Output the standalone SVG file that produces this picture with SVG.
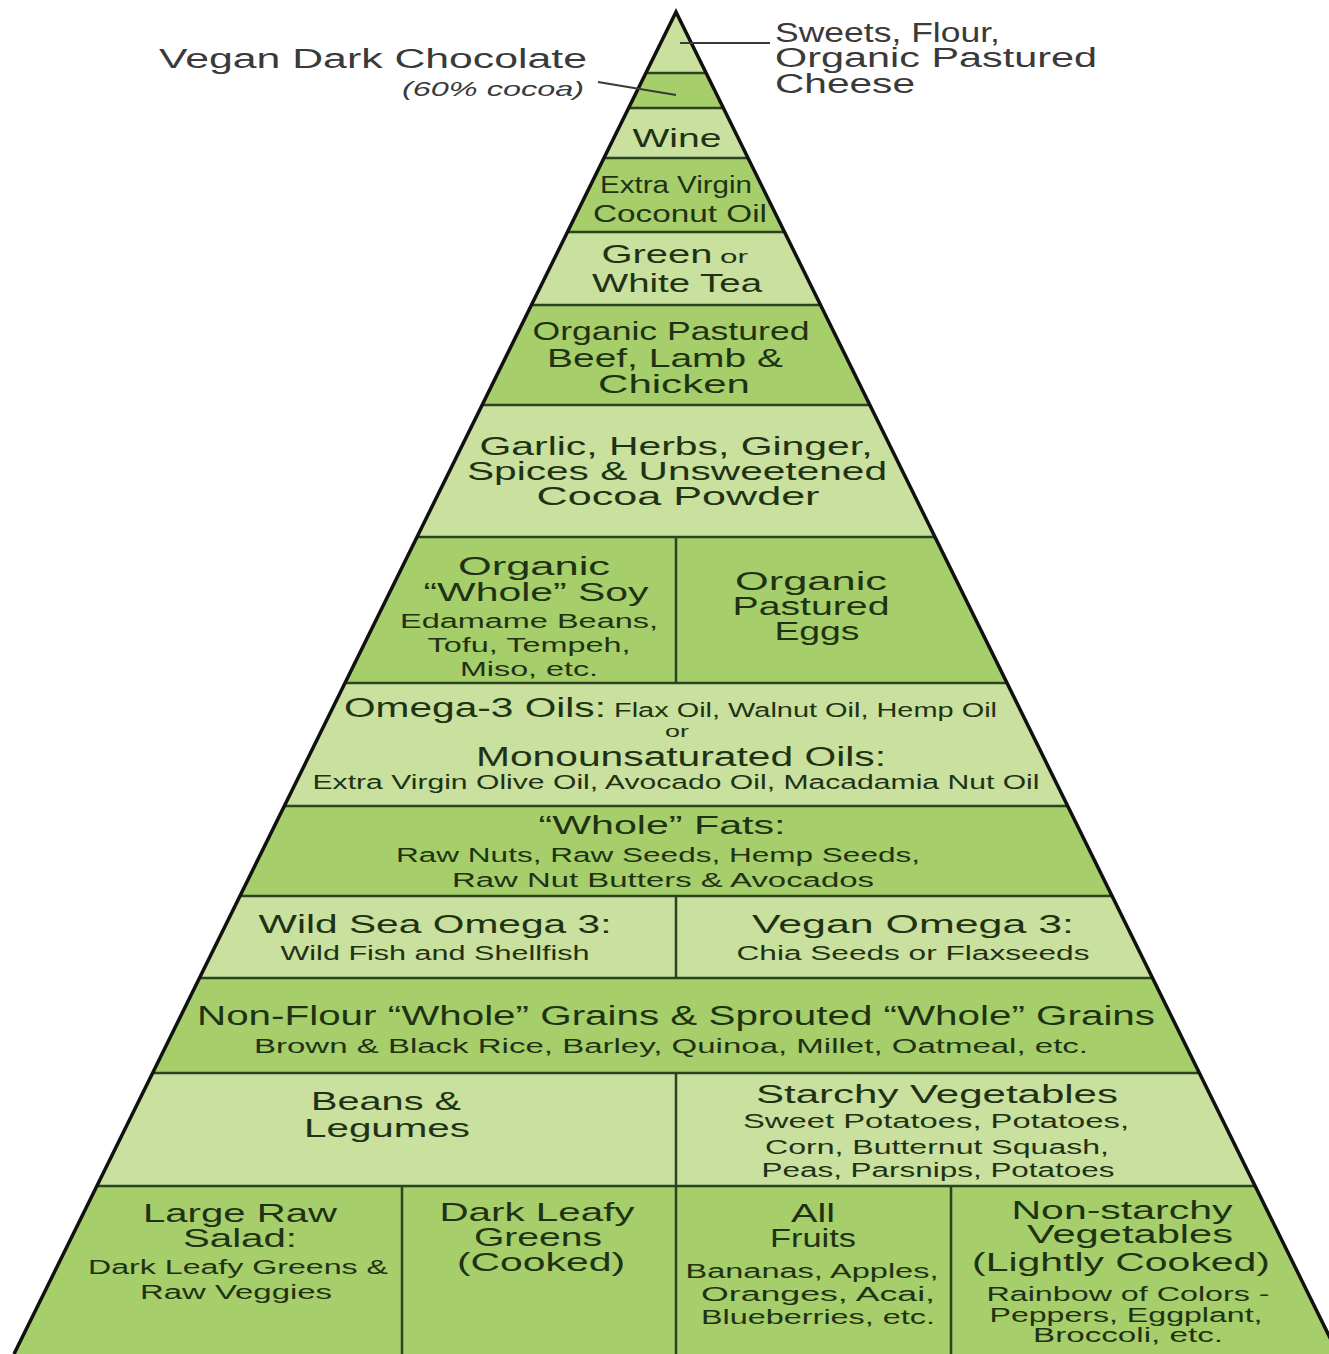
<svg xmlns="http://www.w3.org/2000/svg" width="1329" height="1354" viewBox="0 0 1329 1354">
<style>
.lt{fill:#c9e09e}
.dk{fill:#a6ce6b}
.sep{stroke:#2b4420;stroke-width:2.5;fill:none}
.out{stroke:#111;stroke-width:3.5;fill:none;stroke-linejoin:miter}
.ld{stroke:#3a3a3a;stroke-width:2;fill:none}
text{font-family:"Liberation Sans",Arial,sans-serif;fill:#1f3314;text-anchor:middle}
.h{font-size:25px}
.s{font-size:20px}
.o{fill:#3a3a3a;text-anchor:start;font-size:27px}
</style>
<defs>
<clipPath id="tri"><polygon points="676,12 14,1354 1338,1354"/></clipPath>
</defs>
<rect width="1329" height="1354" fill="#fff"/>

<g id="n-sweets"><rect class="lt" x="0" y="12" width="1329" height="61" clip-path="url(#tri)"/></g>
<g id="n-chocolate"><rect class="dk" x="0" y="73" width="1329" height="35" clip-path="url(#tri)"/></g>
<g id="n-wine"><rect class="lt" x="0" y="108" width="1329" height="50" clip-path="url(#tri)"/>
<text class="h" x="677" y="147" textLength="89" lengthAdjust="spacingAndGlyphs">Wine</text></g>
<g id="n-coconut"><rect class="dk" x="0" y="158" width="1329" height="74" clip-path="url(#tri)"/>
<text x="676" y="193" font-size="23" textLength="152" lengthAdjust="spacingAndGlyphs">Extra Virgin</text>
<text x="680" y="222" font-size="23" textLength="174" lengthAdjust="spacingAndGlyphs">Coconut Oil</text></g>
<g id="n-tea"><rect class="lt" x="0" y="232" width="1329" height="73" clip-path="url(#tri)"/>
<text class="h" x="657" y="263" textLength="111" lengthAdjust="spacingAndGlyphs">Green</text>
<text x="734" y="263" font-size="18" textLength="28" lengthAdjust="spacingAndGlyphs">or</text>
<text class="h" x="677" y="292" textLength="170" lengthAdjust="spacingAndGlyphs">White Tea</text></g>
<g id="n-beef"><rect class="dk" x="0" y="305" width="1329" height="100" clip-path="url(#tri)"/>
<text class="h" x="671" y="340" textLength="277" lengthAdjust="spacingAndGlyphs">Organic Pastured</text>
<text class="h" x="665" y="367" textLength="236" lengthAdjust="spacingAndGlyphs">Beef, Lamb &amp;</text>
<text class="h" x="674" y="393" textLength="152" lengthAdjust="spacingAndGlyphs">Chicken</text></g>
<g id="n-garlic"><rect class="lt" x="0" y="405" width="1329" height="132" clip-path="url(#tri)"/>
<text class="h" x="676" y="455" textLength="393" lengthAdjust="spacingAndGlyphs">Garlic, Herbs, Ginger,</text>
<text class="h" x="677" y="480" textLength="420" lengthAdjust="spacingAndGlyphs">Spices &amp; Unsweetened</text>
<text class="h" x="678" y="505" textLength="283" lengthAdjust="spacingAndGlyphs">Cocoa Powder</text></g>
<g id="n-soy"><rect class="dk" x="0" y="537" width="676" height="146" clip-path="url(#tri)"/>
<text class="h" x="534" y="575" textLength="152" lengthAdjust="spacingAndGlyphs">Organic</text>
<text class="h" x="536" y="601" textLength="225" lengthAdjust="spacingAndGlyphs">“Whole” Soy</text>
<text class="s" x="529" y="628" textLength="258" lengthAdjust="spacingAndGlyphs">Edamame Beans,</text>
<text class="s" x="529" y="652" textLength="203" lengthAdjust="spacingAndGlyphs">Tofu, Tempeh,</text>
<text class="s" x="529" y="676" textLength="138" lengthAdjust="spacingAndGlyphs">Miso, etc.</text></g>
<g id="n-eggs"><rect class="dk" x="676" y="537" width="653" height="146" clip-path="url(#tri)"/>
<text class="h" x="811" y="590" textLength="152" lengthAdjust="spacingAndGlyphs">Organic</text>
<text class="h" x="811" y="615" textLength="157" lengthAdjust="spacingAndGlyphs">Pastured</text>
<text class="h" x="817" y="640" textLength="85" lengthAdjust="spacingAndGlyphs">Eggs</text></g>
<g id="n-oils"><rect class="lt" x="0" y="683" width="1329" height="123" clip-path="url(#tri)"/>
<text x="344" y="717" font-size="27" style="text-anchor:start" textLength="262" lengthAdjust="spacingAndGlyphs">Omega-3 Oils:</text>
<text x="614" y="717" font-size="20" style="text-anchor:start" textLength="383" lengthAdjust="spacingAndGlyphs">Flax Oil, Walnut Oil, Hemp Oil</text>
<text x="677" y="737" font-size="17" textLength="24" lengthAdjust="spacingAndGlyphs">or</text>
<text x="681" y="766" font-size="27" textLength="410" lengthAdjust="spacingAndGlyphs">Monounsaturated Oils:</text>
<text x="676" y="789" font-size="20" textLength="727" lengthAdjust="spacingAndGlyphs">Extra Virgin Olive Oil, Avocado Oil, Macadamia Nut Oil</text></g>
<g id="n-fats"><rect class="dk" x="0" y="806" width="1329" height="90" clip-path="url(#tri)"/>
<text x="662" y="834" font-size="26" textLength="247" lengthAdjust="spacingAndGlyphs">“Whole” Fats:</text>
<text class="s" x="658" y="862" textLength="524" lengthAdjust="spacingAndGlyphs">Raw Nuts, Raw Seeds, Hemp Seeds,</text>
<text class="s" x="663" y="887" textLength="422" lengthAdjust="spacingAndGlyphs">Raw Nut Butters &amp; Avocados</text></g>
<g id="n-wildsea"><rect class="lt" x="0" y="896" width="676" height="82" clip-path="url(#tri)"/>
<text x="435" y="933" font-size="26" textLength="353" lengthAdjust="spacingAndGlyphs">Wild Sea Omega 3:</text>
<text class="s" x="435" y="960" textLength="309" lengthAdjust="spacingAndGlyphs">Wild Fish and Shellfish</text></g>
<g id="n-veganomega"><rect class="lt" x="676" y="896" width="653" height="82" clip-path="url(#tri)"/>
<text x="913" y="933" font-size="26" textLength="322" lengthAdjust="spacingAndGlyphs">Vegan Omega 3:</text>
<text class="s" x="913" y="960" textLength="353" lengthAdjust="spacingAndGlyphs">Chia Seeds or Flaxseeds</text></g>
<g id="n-grains"><rect class="dk" x="0" y="978" width="1329" height="95" clip-path="url(#tri)"/>
<text x="676" y="1025" font-size="27" textLength="958" lengthAdjust="spacingAndGlyphs">Non-Flour “Whole” Grains &amp; Sprouted “Whole” Grains</text>
<text class="s" x="671" y="1053" textLength="834" lengthAdjust="spacingAndGlyphs">Brown &amp; Black Rice, Barley, Quinoa, Millet, Oatmeal, etc.</text></g>
<g id="n-beans"><rect class="lt" x="0" y="1073" width="676" height="113" clip-path="url(#tri)"/>
<text class="h" x="386" y="1110" textLength="150" lengthAdjust="spacingAndGlyphs">Beans &amp;</text>
<text class="h" x="387" y="1137" textLength="166" lengthAdjust="spacingAndGlyphs">Legumes</text></g>
<g id="n-starchy"><rect class="lt" x="676" y="1073" width="653" height="113" clip-path="url(#tri)"/>
<text class="h" x="937" y="1103" textLength="362" lengthAdjust="spacingAndGlyphs">Starchy Vegetables</text>
<text class="s" x="936" y="1128" textLength="386" lengthAdjust="spacingAndGlyphs">Sweet Potatoes, Potatoes,</text>
<text class="s" x="937" y="1154" textLength="344" lengthAdjust="spacingAndGlyphs">Corn, Butternut Squash,</text>
<text class="s" x="938" y="1177" textLength="353" lengthAdjust="spacingAndGlyphs">Peas, Parsnips, Potatoes</text></g>
<g id="n-salad"><rect class="dk" x="0" y="1186" width="402" height="168" clip-path="url(#tri)"/>
<text class="h" x="240" y="1222" textLength="194" lengthAdjust="spacingAndGlyphs">Large Raw</text>
<text class="h" x="240" y="1247" textLength="114" lengthAdjust="spacingAndGlyphs">Salad:</text>
<text class="s" x="238" y="1274" textLength="300" lengthAdjust="spacingAndGlyphs">Dark Leafy Greens &amp;</text>
<text class="s" x="236" y="1299" textLength="192" lengthAdjust="spacingAndGlyphs">Raw Veggies</text></g>
<g id="n-greens"><rect class="dk" x="402" y="1186" width="274" height="168"/>
<text class="h" x="537" y="1221" textLength="195" lengthAdjust="spacingAndGlyphs">Dark Leafy</text>
<text class="h" x="538" y="1246" textLength="128" lengthAdjust="spacingAndGlyphs">Greens</text>
<text class="h" x="541" y="1271" textLength="168" lengthAdjust="spacingAndGlyphs">(Cooked)</text></g>
<g id="n-fruits"><rect class="dk" x="676" y="1186" width="275" height="168"/>
<text class="h" x="813" y="1222" textLength="44" lengthAdjust="spacingAndGlyphs">All</text>
<text class="h" x="813" y="1247" textLength="86" lengthAdjust="spacingAndGlyphs">Fruits</text>
<text class="s" x="812" y="1278" textLength="253" lengthAdjust="spacingAndGlyphs">Bananas, Apples,</text>
<text class="s" x="818" y="1301" textLength="234" lengthAdjust="spacingAndGlyphs">Oranges,  Acai,</text>
<text class="s" x="818" y="1324" textLength="234" lengthAdjust="spacingAndGlyphs">Blueberries, etc.</text></g>
<g id="n-nonstarchy"><rect class="dk" x="951" y="1186" width="378" height="168" clip-path="url(#tri)"/>
<text class="h" x="1122" y="1219" textLength="221" lengthAdjust="spacingAndGlyphs">Non-starchy</text>
<text class="h" x="1130" y="1243" textLength="206" lengthAdjust="spacingAndGlyphs">Vegetables</text>
<text x="1121" y="1271" font-size="26" textLength="298" lengthAdjust="spacingAndGlyphs">(Lightly Cooked)</text>
<text class="s" x="1128" y="1301" textLength="283" lengthAdjust="spacingAndGlyphs">Rainbow of Colors -</text>
<text class="s" x="1126" y="1322" textLength="273" lengthAdjust="spacingAndGlyphs">Peppers, Eggplant,</text>
<text class="s" x="1128" y="1342" textLength="190" lengthAdjust="spacingAndGlyphs">Broccoli, etc.</text></g>

<g id="dividers" clip-path="url(#tri)">
<path class="sep" d="M0 73H1329M0 108H1329M0 158H1329M0 232H1329M0 305H1329M0 405H1329M0 537H1329M0 683H1329M0 806H1329M0 896H1329M0 978H1329M0 1073H1329M0 1186H1329"/>
<path class="sep" d="M676 537V683M676 896V978M676 1073V1186M402 1186V1354M676 1186V1354M951 1186V1354"/>
</g>
<polyline id="outline" class="out" points="14,1354 676,12 1338,1354"/>

<g id="n-label-sweets">
<text class="o" x="775" y="42" textLength="225" lengthAdjust="spacingAndGlyphs">Sweets, Flour,</text>
<text class="o" x="775" y="67" textLength="322" lengthAdjust="spacingAndGlyphs">Organic Pastured</text>
<text class="o" x="775" y="93" textLength="140" lengthAdjust="spacingAndGlyphs">Cheese</text>
</g>
<g id="n-label-chocolate">
<text class="o" x="159" y="68" textLength="428" lengthAdjust="spacingAndGlyphs">Vegan Dark Chocolate</text>
<text class="o" x="402" y="96" font-style="italic" style="font-size:21px" textLength="182" lengthAdjust="spacingAndGlyphs">(60% cocoa)</text>
</g>
<g id="connectors">
<line class="ld" x1="680" y1="43" x2="770" y2="43"/>
<line class="ld" x1="598" y1="82" x2="676" y2="95"/>
</g>
</svg>
